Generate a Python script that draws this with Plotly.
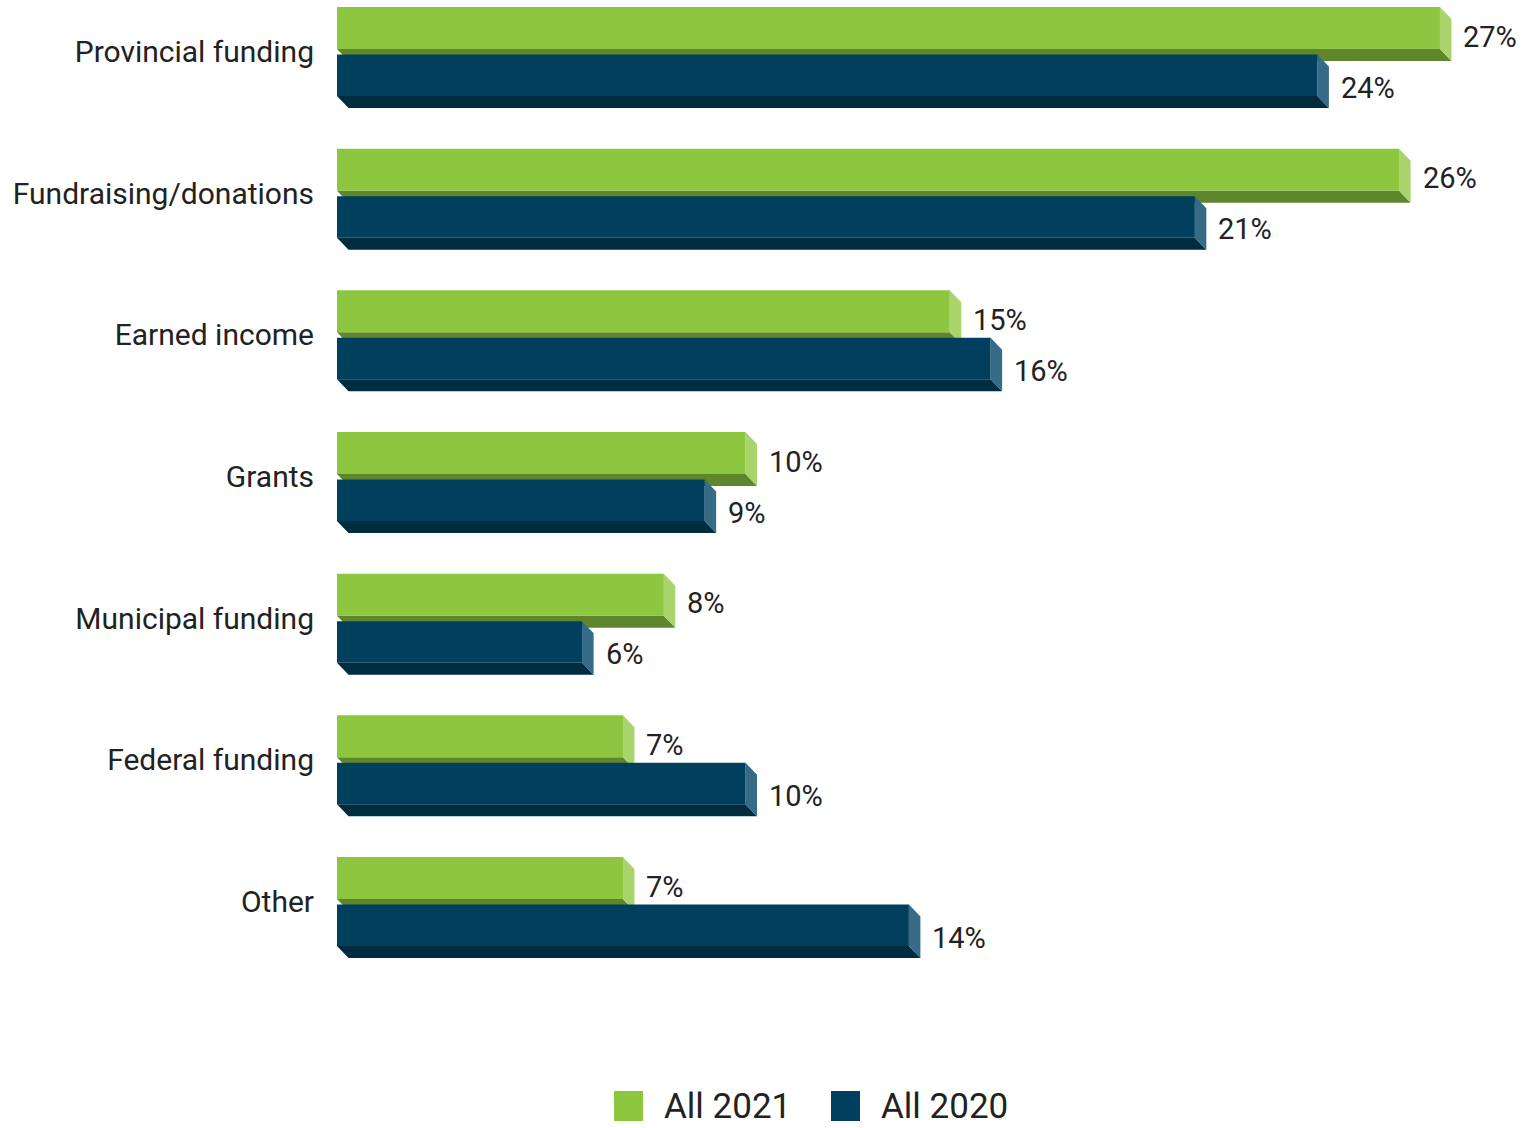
import plotly.graph_objects as go

categories = ["Provincial funding", "Fundraising/donations", "Earned income",
              "Grants", "Municipal funding", "Federal funding", "Other"]
values_2021 = [27, 26, 15, 10, 8, 7, 7]
values_2020 = [24, 21, 16, 9, 6, 10, 14]
series_names = ["All 2021", "All 2020"]

W, H = 1521, 1128
L, R, T, B = 337, 0, 0, 128
PW, PH = W - L - R, H - T - B
PX_PER_X = 40.85
PX_PER_Y = 141.67
x_max = PW / PX_PER_X
y_top = -51.5 / PX_PER_Y
y_bot = y_top + PH / PX_PER_Y

def ux(px):
    return px / PX_PER_X

def uy(px):
    return px / PX_PER_Y

DX, DY = ux(11.5), uy(12)

colors = {
    "All 2021": dict(front="#8DC63F", bottom="#5F862D", side="#A9D46B"),
    "All 2020": dict(front="#00405E", bottom="#002C3F", side="#356B87"),
}
extents = {"All 2021": (-44.5, -2.5), "All 2020": (3.0, 44.5)}

fig = go.Figure()

for name, vals in zip(series_names, [values_2021, values_2020]):
    c = colors[name]
    t_off, b_off = extents[name]
    fx, fy, bx, by, sx, sy = [], [], [], [], [], []
    for i, v in enumerate(vals):
        top = i + uy(t_off)
        bot = i + uy(b_off)
        fx += [0, v, v, 0, 0, None]
        fy += [top, top, bot, bot, top, None]
        bx += [0, v, v + DX, DX, 0, None]
        by += [bot, bot, bot + DY, bot + DY, bot, None]
        sx += [v, v + DX, v + DX, v, v, None]
        sy += [top, top + DY, bot + DY, bot, top, None]
    for xs, ys, col in [(bx, by, c["bottom"]), (sx, sy, c["side"]), (fx, fy, c["front"])]:
        fig.add_trace(go.Scatter(x=xs, y=ys, fill="toself", fillcolor=col,
                                 mode="lines", line=dict(width=0, color=col),
                                 hoverinfo="skip", showlegend=False))

label_font = dict(family="Roboto", size=29, color="#222222")
for i in range(len(categories)):
    fig.add_annotation(x=values_2021[i] + DX + ux(10), y=i, yshift=15,
                       text=f"{values_2021[i]}%", showarrow=False, xanchor="left",
                       yanchor="middle", font=label_font)
    fig.add_annotation(x=values_2020[i] + DX + ux(10), y=i, yshift=-36,
                       text=f"{values_2020[i]}%", showarrow=False, xanchor="left",
                       yanchor="middle", font=label_font)

# manual legend
leg_items = [(series_names[0], colors["All 2021"]["front"], 614),
             (series_names[1], colors["All 2020"]["front"], 831)]
for name, col, px in leg_items:
    x0 = (px - L) / PW
    x1 = (px + 29 - L) / PW
    fig.add_shape(type="rect", xref="paper", yref="paper",
                  x0=x0, x1=x1, y0=(PH - 1121) / PH, y1=(PH - 1091) / PH,
                  fillcolor=col, line=dict(width=0))
    fig.add_annotation(xref="paper", yref="paper", x=(px + 48 - L) / PW,
                       y=(PH - 1106) / PH, text=name, showarrow=False,
                       xanchor="left", yanchor="middle",
                       font=dict(family="Roboto", size=35, color="#222222"))

fig.update_layout(
    width=W, height=H,
    margin=dict(l=L, r=R, t=T, b=B, pad=0),
    paper_bgcolor="white", plot_bgcolor="white",
    showlegend=False,
    xaxis=dict(range=[0, x_max], visible=False, fixedrange=True),
    yaxis=dict(range=[y_bot, y_top], tickmode="array",
               tickvals=list(range(len(categories))), ticktext=categories,
               showgrid=False, zeroline=False, showline=False, fixedrange=True,
               ticks="outside", ticklen=16, tickcolor="rgba(0,0,0,0)",
               tickfont=dict(family="Roboto", size=30, color="#222222")),
)

fig.write_html("out.html", config={"displayModeBar": False},
               post_script="document.body.style.margin='0';document.body.style.overflow='hidden';")
